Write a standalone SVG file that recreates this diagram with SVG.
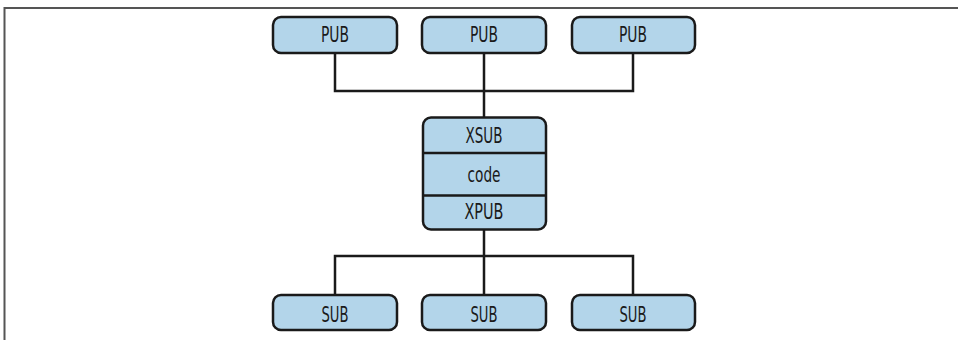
<svg xmlns="http://www.w3.org/2000/svg" width="958" height="340" viewBox="0 0 958 340">
<style>
.box{fill:#b3d5ea;stroke:#1a1a1a;stroke-width:2.5}
.lbl{font-family:"DejaVu Sans Condensed","DejaVu Sans",sans-serif;font-stretch:condensed;font-size:21px;fill:#1a1a1a;text-anchor:middle}
.wire{fill:none;stroke:#1a1a1a;stroke-width:2.5}
.frame{fill:none;stroke:#555;stroke-width:2}
</style>
<rect width="958" height="340" fill="#fff"/>
<path class="frame" d="M958 8H4.5V340"/>
<g id="connectors">
<path class="wire" d="M335 53V91H633V53M484 53V117"/>
<path class="wire" d="M484 229V256M335 295V256H633V295M484 256V295"/>
</g>
<g id="pub1"><rect class="box" x="273" y="17" width="124" height="36" rx="8"/><text class="lbl" x="335" y="42" textLength="28" lengthAdjust="spacingAndGlyphs">PUB</text></g>
<g id="pub2"><rect class="box" x="422" y="17" width="124" height="36" rx="8"/><text class="lbl" x="484" y="42" textLength="28" lengthAdjust="spacingAndGlyphs">PUB</text></g>
<g id="pub3"><rect class="box" x="572" y="17" width="123" height="36" rx="8"/><text class="lbl" x="633" y="42" textLength="28" lengthAdjust="spacingAndGlyphs">PUB</text></g>
<g id="proxy">
<rect class="box" x="423" y="117.5" width="123" height="112" rx="8"/>
<path class="wire" d="M423 153H546M423 195.5H546"/>
<text class="lbl" x="484" y="142.5" textLength="37" lengthAdjust="spacingAndGlyphs">XSUB</text>
<text class="lbl" x="484" y="181.5" textLength="33" lengthAdjust="spacingAndGlyphs">code</text>
<text class="lbl" x="484" y="218.5" textLength="39" lengthAdjust="spacingAndGlyphs">XPUB</text>
</g>
<g id="sub1"><rect class="box" x="273" y="295" width="124" height="35" rx="8"/><text class="lbl" x="335" y="321.5" textLength="27" lengthAdjust="spacingAndGlyphs">SUB</text></g>
<g id="sub2"><rect class="box" x="422" y="295" width="124" height="35" rx="8"/><text class="lbl" x="484" y="321.5" textLength="27" lengthAdjust="spacingAndGlyphs">SUB</text></g>
<g id="sub3"><rect class="box" x="572" y="295" width="123" height="35" rx="8"/><text class="lbl" x="633" y="321.5" textLength="27" lengthAdjust="spacingAndGlyphs">SUB</text></g>
</svg>
